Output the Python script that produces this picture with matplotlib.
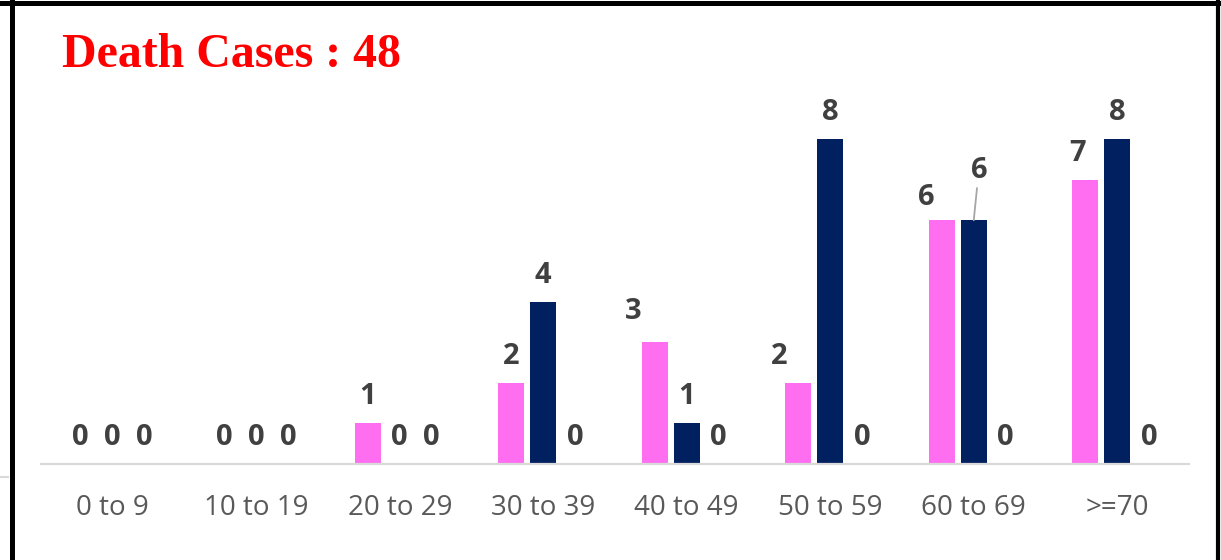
import matplotlib.pyplot as plt
from matplotlib.lines import Line2D
import numpy as np

categories = ['0 to 9', '10 to 19', '20 to 29', '30 to 39', '40 to 49', '50 to 59', '60 to 69', '>=70']
pink_vals = [0, 0, 1, 2, 3, 2, 6, 7]
navy_vals = [0, 0, 0, 4, 1, 8, 6, 8]
other_vals = [0, 0, 0, 0, 0, 0, 0, 0]
title = 'Death Cases : 48'

W, H = 1221, 560
fig = plt.figure(figsize=(W / 100, H / 100), dpi=100)
ax = fig.add_axes([41 / W, 1 - 464 / H, (1189 - 41) / W, (464 - 98.4) / H])

x = np.arange(len(categories))
off = 0.223
bw = 0.18
series = [(pink_vals, '#FF6EF0', -off), (navy_vals, '#002060', 0.0), (other_vals, '#A5A5A5', off)]

# label nudges in pixels (dx, dy); the navy 60 to 69 label sits higher with a leader line
nudges = {(0, 4): (-21, 4), (0, 5): (-19, 0), (0, 6): (-15, -4), (0, 7): (-8, 0), (1, 6): (5, 23)}
lab_font = dict(ha='center', va='bottom', fontsize=21, fontweight='bold',
                color='#404040', family='Open Sans')

for si, (vals, col, dx) in enumerate(series):
    ax.bar(x + dx, vals, width=bw, color=col, zorder=2)
    for i, v in enumerate(vals):
        nx, ny = nudges.get((si, i), (0, 0))
        kw = {}
        if (si, i) == (1, 6):
            kw['arrowprops'] = dict(arrowstyle='-', color='#A6A6A6', lw=1.3, shrinkA=0, shrinkB=0)
        ax.annotate(str(v), xy=(x[i] + dx, v), xytext=(nx * 0.72, (12 + ny) * 0.72),
                    textcoords='offset points', **lab_font, **kw)

ax.set_xlim(-0.5, len(categories) - 0.5)
ax.set_ylim(0, 9)
ax.set_xticks(x)
ax.set_xticklabels(categories, fontsize=20, color='#595959', family='Open Sans')
ax.tick_params(axis='x', length=0, pad=21.5)
ax.set_yticks([])
for s in ['top', 'right', 'left']:
    ax.spines[s].set_visible(False)
ax.spines['bottom'].set_color('#D9D9D9')
ax.spines['bottom'].set_linewidth(1.6)

fig.text(62 / W, 1 - 67 / H, title, ha='left', va='baseline', fontsize=34.5,
         fontweight='bold', color='#FF0000', family='Liberation Serif')

# outer frame
fig.add_artist(Line2D([0, 1], [1 - 2.5 / H, 1 - 2.5 / H], color='black', lw=3.6))
fig.add_artist(Line2D([11.5 / W, 11.5 / W], [0, 1], color='black', lw=3.6))
fig.add_artist(Line2D([1218 / W, 1218 / W], [0, 1], color='black', lw=3.0))
fig.add_artist(Line2D([0, 8 / W], [1 - 477 / H, 1 - 477 / H], color='#D9D9D9', lw=1.5))

fig.savefig('out.png', dpi=100)
